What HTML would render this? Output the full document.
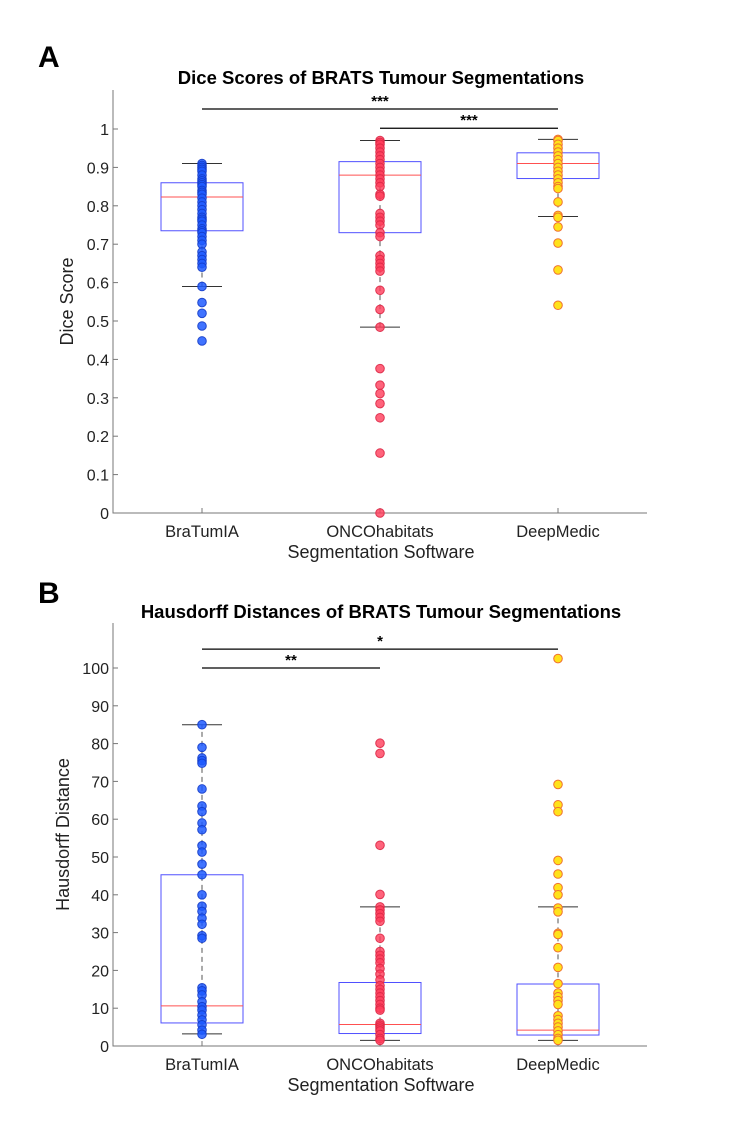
<!DOCTYPE html>
<html><head><meta charset="utf-8"><style>
body{margin:0;background:#fff;}
svg{display:block;font-family:"Liberation Sans",Arial,sans-serif;}
</style></head><body>
<svg id="fig" width="733" height="1125" viewBox="0 0 733 1125"></svg>
<script>
const categories=["BraTumIA","ONCOhabitats","DeepMedic"];
const diceTicks=[0,0.1,0.2,0.3,0.4,0.5,0.6,0.7,0.8,0.9,1];
const hausTicks=[0,10,20,30,40,50,60,70,80,90,100];
const diceBra=[0.91,0.905,0.9,0.895,0.89,0.88,0.87,0.865,0.86,0.855,0.85,0.84,0.835,0.83,0.82,0.81,0.8,0.79,0.78,0.77,0.765,0.76,0.75,0.74,0.735,0.73,0.72,0.71,0.7,0.68,0.67,0.66,0.65,0.64,0.59,0.548,0.52,0.487,0.448];
const diceOnco=[0.97,0.965,0.96,0.95,0.94,0.93,0.92,0.91,0.9,0.89,0.88,0.87,0.86,0.85,0.83,0.825,0.78,0.77,0.76,0.75,0.73,0.72,0.67,0.66,0.65,0.64,0.63,0.58,0.53,0.484,0.376,0.333,0.311,0.285,0.248,0.156,0];
const diceDeep=[0.973,0.97,0.96,0.95,0.94,0.93,0.92,0.91,0.9,0.89,0.88,0.87,0.86,0.85,0.845,0.81,0.775,0.77,0.745,0.703,0.633,0.541];
const diceBoxes=[[0.59,0.735,0.823,0.86,0.91],[0.484,0.73,0.88,0.915,0.97],[0.772,0.871,0.91,0.938,0.973]];
const hausBra=[85,79,76.2,75.5,74.8,68,63.5,62,59,57.2,53,51.3,48.1,45.3,40,37,35.6,33.8,32.2,29.2,28.5,15.4,14.6,13.5,11.7,10.4,9.5,8.2,6.9,5.6,4.2,3.1];
const hausOnco=[80.1,77.4,53.1,40.1,36.8,36,35,34,33,28.5,25,24,23,22,20.5,19,17.5,16,15,14,13,12,11,10,9.5,6,5.5,5,4.5,4,3,2,1.5];
const hausDeep=[102.5,69.2,63.8,62,49.1,45.5,41.9,40,36.5,35.5,29.8,29.5,26,20.8,16.5,14,13,12,11,8,7,6,5,4,3,2,1.5];
const hausBoxes=[[3.2,6.1,10.6,45.3,85],[1.5,3.3,5.7,16.8,36.8],[1.5,2.9,4.2,16.4,36.8]];
const diceSig=[[1,3,1.052,"***"],[2,3,1.002,"***"]];
const hausSig=[[1,3,105,"*"],[1,2,100,"**"]];

const NS="http://www.w3.org/2000/svg";
const svg=document.getElementById('fig');
function mk(tag,attrs,parent,txt){const e=document.createElementNS(NS,tag);for(const k in attrs)e.setAttribute(k,attrs[k]);if(txt!==undefined)e.textContent=txt;(parent||svg).appendChild(e);return e;}

const X0=113,X1=647;
const xs=c=>X0+(c-0.5)*(X1-X0)/3;
const fills=[["rgba(30,90,255,0.85)","rgba(20,60,200,0.9)"],["rgba(255,60,90,0.8)","rgba(220,40,70,0.9)"],["#ffe21a","#f07030"]];

function panel(o){
  const g=mk('g',{});  
  const ys=v=>o.yb-(v-o.ymin)*(o.yb-o.yt)/(o.ymax-o.ymin);
  const L=mk('text',{x:38,y:o.letterY,'font-size':30,'font-weight':'bold'},g,o.letter);
   
  const T=mk('text',{x:381,y:o.titleY,'font-size':18.5,'font-weight':'bold','text-anchor':'middle'},g,o.title);
   
  const ax=mk('path',{d:`M${X0},${o.top}V${o.yb}H${X1}`,stroke:'#777',fill:'none','stroke-width':1},g);
   
  o.ticks.forEach(t=>{const y=ys(t);
    mk('line',{x1:X0,x2:X0+5,y1:y,y2:y,stroke:'#777'},g);
    const tl=mk('text',{x:X0-4,y:y+6,'font-size':16,'text-anchor':'end',fill:'#222'},g,String(t));
     });
  categories.forEach((c,i)=>{const x=xs(i+1);
    mk('line',{x1:x,x2:x,y1:o.yb,y2:o.yb-5,stroke:'#777'},g);
    const tl=mk('text',{x:x,y:o.yb+24,'font-size':16.5,'text-anchor':'middle',fill:'#222'},g,c);
     });
  const xl=mk('text',{x:381,y:o.yb+45,'font-size':18,'text-anchor':'middle',fill:'#222'},g,'Segmentation Software');
   
  const yc=(o.top+o.yb)/2;
  const yl=mk('text',{x:o.ylx,y:yc,'font-size':18,'text-anchor':'middle',fill:'#222',transform:`rotate(-90 ${o.ylx} ${yc})`},g,o.ylabel);
   
  o.boxes.forEach((b,i)=>{const x=xs(i+1);
    const bg=mk('g',{},g);  
    mk('line',{x1:x,x2:x,y1:ys(b[0]),y2:ys(b[4]),stroke:'#555','stroke-dasharray':'5,4'},bg);
    mk('line',{x1:x-20,x2:x+20,y1:ys(b[0]),y2:ys(b[0]),stroke:'#333'},bg);
    mk('line',{x1:x-20,x2:x+20,y1:ys(b[4]),y2:ys(b[4]),stroke:'#333'},bg);
    mk('rect',{x:x-41,y:ys(b[3]),width:82,height:ys(b[1])-ys(b[3]),fill:'none',stroke:'#5050ff'},bg);
    mk('line',{x1:x-41,x2:x+41,y1:ys(b[2]),y2:ys(b[2]),stroke:'#ff5050'},bg);
  });
  o.series.forEach((s,i)=>{const x=xs(i+1);
    s.forEach(v=>{const p=mk('circle',{cx:x,cy:ys(v),r:4.3,fill:fills[i][0],stroke:fills[i][1],'stroke-width':1},g);
       });});
  o.sig.forEach(s=>{const y=ys(s[2]);
    const l=mk('line',{x1:xs(s[0]),x2:xs(s[1]),y1:y,y2:y,stroke:'#000','stroke-width':1.3},g);
     
    const t=mk('text',{x:(xs(s[0])+xs(s[1]))/2,y:y-3,'font-size':15,'font-weight':'bold','text-anchor':'middle'},g,s[3]);
     });
}
panel({name:'panel-a-dice',letter:'A',letterY:67,title:'Dice Scores of BRATS Tumour Segmentations',titleY:84,top:90,yb:513,yt:129,ymin:0,ymax:1,ticks:diceTicks,boxes:diceBoxes,series:[diceBra,diceOnco,diceDeep],sig:diceSig,ylabel:'Dice Score',ylx:73});
panel({name:'panel-b-hausdorff',letter:'B',letterY:603,title:'Hausdorff Distances of BRATS Tumour Segmentations',titleY:618,top:623,yb:1046,yt:668,ymin:0,ymax:100,ticks:hausTicks,boxes:hausBoxes,series:[hausBra,hausOnco,hausDeep],sig:hausSig,ylabel:'Hausdorff Distance',ylx:69});
</script>
</body></html>
